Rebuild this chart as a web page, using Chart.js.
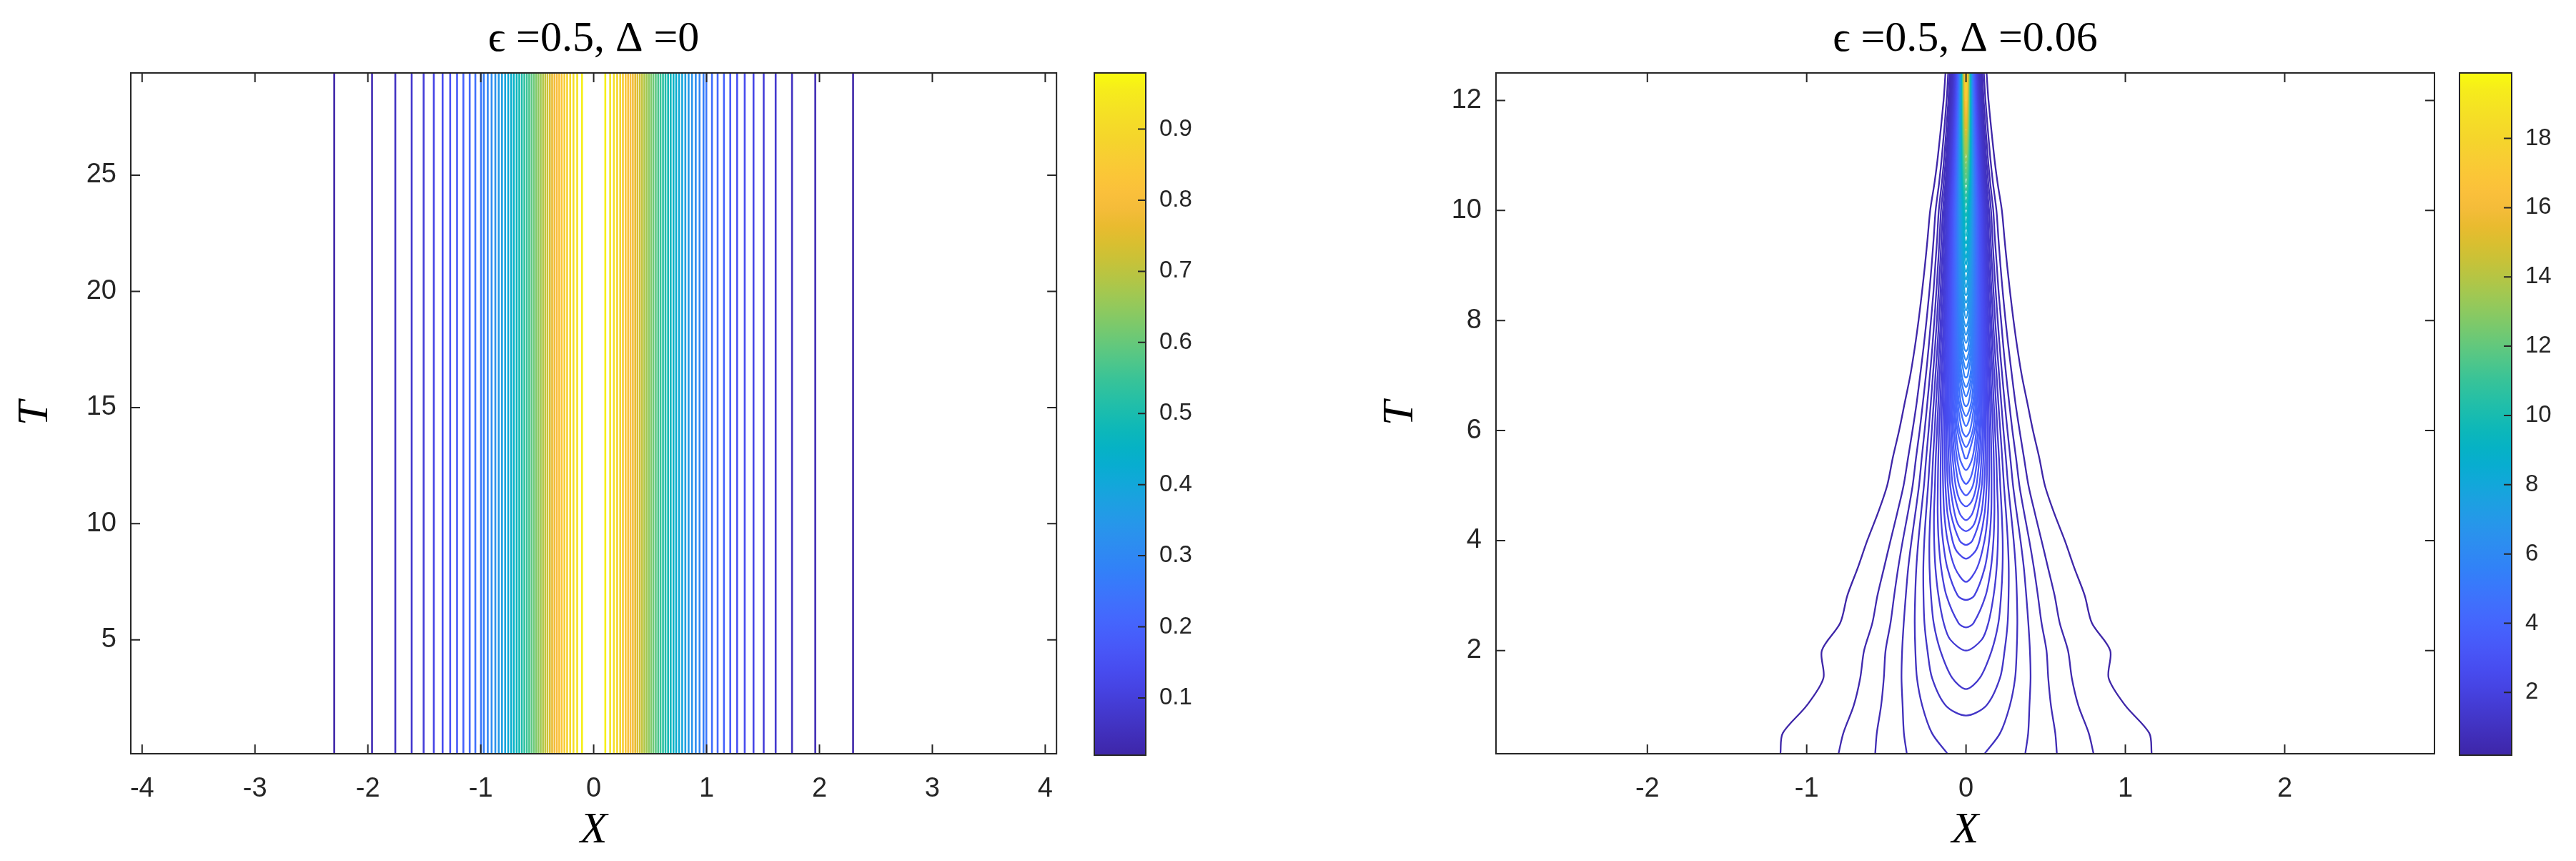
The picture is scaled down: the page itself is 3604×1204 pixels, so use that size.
<!DOCTYPE html>
<html><head><meta charset="utf-8">
<script src="https://cdn.jsdelivr.net/npm/chart.js@4.4.1/dist/chart.umd.min.js"></script>
<style>
html,body{margin:0;padding:0;background:#fff;width:3604px;height:1204px;overflow:hidden}
canvas{position:absolute;top:0}
</style></head><body>
<canvas id="a1" width="1500" height="1204" style="left:0"></canvas>
<canvas id="b1" width="250" height="1204" style="left:1500px"></canvas>
<canvas id="a2" width="1620" height="1204" style="left:1800px"></canvas>
<canvas id="b2" width="184" height="1204" style="left:3420px"></canvas>
<script>
// ================= LEFT PANEL DATA =================
const leftTitle = 'ϵ =0.5, Δ =0';
const leftXRange = [-4.1, 4.1];
const leftTRange = [0.1, 29.4];
const leftXTicks = [-4, -3, -2, -1, 0, 1, 2, 3, 4];
const leftTTicks = [5, 10, 15, 20, 25];
const leftCbRange = [0.0195, 0.979];
const leftCbTicks = [0.1, 0.2, 0.3, 0.4, 0.5, 0.6, 0.7, 0.8, 0.9];
const leftLevels = [0.020,0.039,0.059,0.078,0.098,0.118,0.137,0.157,0.176,0.196,0.215,0.235,0.255,0.274,0.294,0.313,0.333,0.352,0.372,0.392,0.411,0.431,0.450,0.470,0.490,0.509,0.529,0.548,0.568,0.588,0.607,0.627,0.646,0.666,0.685,0.705,0.725,0.744,0.764,0.783,0.803,0.822,0.842,0.862,0.881,0.901,0.920,0.940,0.959];
const leftLineXNeg = [-2.298,-1.963,-1.757,-1.612,-1.506,-1.416,-1.338,-1.271,-1.210,-1.154,-1.098,-1.048,-0.998,-0.973,-0.938,-0.904,-0.871,-0.841,-0.812,-0.784,-0.757,-0.731,-0.707,-0.682,-0.659,-0.636,-0.614,-0.592,-0.571,-0.550,-0.529,-0.509,-0.489,-0.469,-0.449,-0.429,-0.409,-0.388,-0.368,-0.347,-0.326,-0.305,-0.283,-0.259,-0.235,-0.208,-0.179,-0.146,-0.103];
const leftLineXPos = [2.298,1.963,1.757,1.612,1.506,1.416,1.338,1.271,1.210,1.154,1.098,1.048,0.998,0.973,0.938,0.904,0.871,0.841,0.812,0.784,0.757,0.731,0.707,0.682,0.659,0.636,0.614,0.592,0.571,0.550,0.529,0.509,0.489,0.469,0.449,0.429,0.409,0.388,0.368,0.347,0.326,0.305,0.283,0.259,0.235,0.208,0.179,0.146,0.103];

// ================= RIGHT PANEL DATA =================
const rightTitle = 'ϵ =0.5, Δ =0.06';
const rightXRange = [-2.95, 2.94];
const rightTRange = [0.125, 12.5];
const rightXTicks = [-2, -1, 0, 1, 2];
const rightTTicks = [2, 4, 6, 8, 10, 12];
const rightCbRange = [0.19, 19.89];
const rightCbTicks = [2, 4, 6, 8, 10, 12, 14, 16, 18];

// open contours (cross the bottom edge): half-width |X| at each T of rightOpenT
const rightOpenT = [0.13,0.5,1,1.5,2,2.5,3,3.5,4,4.5,5,5.5,6,6.5,7,7.5,8,8.5,9,9.5,10,10.5,11,12,12.5];
const rightOpenLevels = [0.19, 0.389, 0.588, 0.787, 0.986];
const rightOpenHalfX = [
 [1.165,1.150,1.000,0.895,0.905,0.790,0.745,0.680,0.620,0.553,0.495,0.460,0.420,0.385,0.350,0.322,0.298,0.277,0.258,0.241,0.225,0.198,0.176,0.141,0.129],
 [0.800,0.770,0.705,0.664,0.640,0.588,0.556,0.515,0.474,0.432,0.392,0.364,0.336,0.310,0.288,0.267,0.248,0.231,0.216,0.203,0.191,0.169,0.151,0.122,0.112],
 [0.570,0.560,0.533,0.516,0.505,0.474,0.451,0.426,0.397,0.365,0.335,0.314,0.291,0.271,0.252,0.235,0.220,0.205,0.193,0.181,0.171,0.152,0.136,0.111,0.102],
 [0.372,0.390,0.398,0.405,0.401,0.391,0.378,0.363,0.342,0.318,0.295,0.278,0.260,0.243,0.227,0.212,0.199,0.187,0.176,0.166,0.157,0.140,0.126,0.103,0.095],
 [0.118,0.214,0.275,0.308,0.318,0.322,0.319,0.312,0.299,0.282,0.264,0.250,0.235,0.221,0.208,0.195,0.183,0.173,0.163,0.154,0.145,0.130,0.118,0.097,0.089]
];

// closed contours (U-shaped, closing on X=0 at rightCapBottomT); half-widths on the tail of rightCapRowT
const rightCapRowT = [1,1.5,2,2.5,3,3.5,4,4.5,5,5.5,6,6.5,7,7.5,8,8.5,9,9.5,10,10.5,11,12,12.5];
const rightCapLevels = [1.185,1.384,1.583,1.782,1.981,2.180,2.379,2.578,2.777,2.976,3.175,3.374,3.573,3.772,3.971,4.170,4.369,4.568,4.767,4.966,5.165,5.364,5.563,5.762,5.961,6.160,6.359,6.558,6.757,6.956,7.155,7.354,7.553,7.752,7.951,8.150,8.349,8.548,8.747,8.946,9.145,9.344,9.543,9.742,9.941];
const rightCapBottomT = [0.82,1.30,2.00,2.42,2.92,3.25,3.67,3.92,4.17,4.37,4.62,4.82,5.03,5.28,5.49,5.70,5.89,6.08,6.26,6.44,6.62,6.79,6.96,7.12,7.28,7.44,7.59,7.74,7.89,8.04,8.18,8.32,8.46,8.60,8.74,8.88,9.01,9.14,9.27,9.40,9.53,9.66,9.78,9.90,10.02];
const rightCapNear = [null,null,[2.2,0.099],null,null,null,[3.8,0.057],null,[4.27,0.045],null,[4.72,0.037],null,[5.15,0.030],null,null,null,null,null,null,null,null,null,null,null,null,null,null,null,null,null,null,null,null,null,null,null,null,null,null,null,null,null,null,null,null];
const rightCapHalfX = [
 [0.127,0.213,0.242,0.261,0.267,0.268,0.262,0.251,0.238,0.227,0.215,0.203,0.192,0.180,0.170,0.161,0.152,0.144,0.136,0.123,0.111,0.092,0.085],
 [0.086,0.161,0.203,0.220,0.229,0.230,0.224,0.215,0.207,0.197,0.188,0.178,0.168,0.159,0.151,0.143,0.136,0.129,0.116,0.106,0.088,0.081],
 [0.140,0.173,0.192,0.200,0.201,0.195,0.190,0.182,0.174,0.166,0.158,0.150,0.142,0.135,0.128,0.122,0.111,0.101,0.084,0.078],
 [0.047,0.123,0.156,0.172,0.178,0.177,0.174,0.169,0.162,0.155,0.148,0.141,0.135,0.128,0.122,0.116,0.106,0.096,0.081,0.075],
 [0.052,0.117,0.145,0.158,0.160,0.159,0.156,0.151,0.146,0.140,0.134,0.128,0.122,0.116,0.111,0.101,0.093,0.078,0.072],
 [0.069,0.116,0.137,0.144,0.146,0.145,0.141,0.137,0.132,0.127,0.121,0.116,0.111,0.107,0.097,0.089,0.075,0.070],
 [0.085,0.117,0.129,0.133,0.134,0.132,0.129,0.125,0.120,0.116,0.111,0.106,0.102,0.094,0.086,0.073,0.068],
 [0.040,0.096,0.114,0.121,0.123,0.123,0.121,0.118,0.114,0.110,0.106,0.102,0.098,0.090,0.083,0.071,0.066],
 [0.072,0.099,0.109,0.114,0.115,0.114,0.111,0.109,0.105,0.102,0.098,0.094,0.087,0.080,0.069,0.064],
 [0.041,0.083,0.097,0.104,0.107,0.107,0.105,0.103,0.100,0.097,0.094,0.091,0.084,0.078,0.067,0.062],
 [0.065,0.084,0.094,0.099,0.100,0.100,0.098,0.096,0.093,0.090,0.088,0.081,0.076,0.065,0.061],
 [0.043,0.071,0.085,0.091,0.094,0.094,0.094,0.092,0.090,0.087,0.084,0.079,0.073,0.063,0.059],
 [0.057,0.075,0.084,0.088,0.089,0.089,0.088,0.086,0.084,0.081,0.076,0.071,0.062,0.058],
 [0.040,0.065,0.076,0.081,0.084,0.084,0.084,0.082,0.081,0.079,0.074,0.069,0.060,0.057],
 [0.008,0.054,0.068,0.075,0.079,0.080,0.080,0.079,0.078,0.076,0.072,0.067,0.059,0.055],
 [0.042,0.060,0.069,0.074,0.076,0.076,0.076,0.075,0.073,0.070,0.066,0.057,0.054],
 [0.025,0.052,0.063,0.069,0.072,0.073,0.073,0.072,0.071,0.067,0.064,0.056,0.053],
 [0.043,0.057,0.064,0.068,0.069,0.070,0.069,0.068,0.065,0.062,0.055,0.052],
 [0.032,0.050,0.059,0.064,0.066,0.067,0.067,0.066,0.064,0.061,0.054,0.051],
 [0.015,0.043,0.054,0.060,0.063,0.064,0.064,0.064,0.062,0.059,0.053,0.050],
 [0.035,0.049,0.056,0.059,0.061,0.062,0.062,0.060,0.057,0.052,0.049],
 [0.026,0.043,0.052,0.056,0.058,0.059,0.059,0.058,0.056,0.050,0.048],
 [0.011,0.038,0.047,0.053,0.055,0.057,0.057,0.056,0.055,0.049,0.047],
 [0.031,0.043,0.049,0.053,0.054,0.055,0.055,0.053,0.048,0.046],
 [0.023,0.039,0.046,0.050,0.052,0.053,0.053,0.052,0.047,0.045],
 [0.012,0.034,0.043,0.047,0.050,0.051,0.052,0.051,0.047,0.044],
 [0.029,0.039,0.044,0.047,0.049,0.050,0.049,0.046,0.044],
 [0.022,0.035,0.041,0.045,0.047,0.049,0.048,0.045,0.043],
 [0.014,0.031,0.039,0.043,0.045,0.047,0.047,0.044,0.042],
 [0.027,0.036,0.041,0.043,0.046,0.046,0.043,0.041],
 [0.022,0.033,0.038,0.041,0.044,0.044,0.042,0.041],
 [0.017,0.029,0.036,0.039,0.043,0.043,0.041,0.040],
 [0.008,0.026,0.033,0.037,0.041,0.042,0.041,0.039],
 [0.022,0.031,0.035,0.040,0.041,0.040,0.039],
 [0.018,0.028,0.033,0.038,0.040,0.039,0.038],
 [0.012,0.025,0.031,0.037,0.039,0.038,0.037],
 [0.022,0.029,0.036,0.038,0.038,0.037],
 [0.019,0.027,0.034,0.037,0.037,0.036],
 [0.015,0.025,0.033,0.036,0.036,0.035],
 [0.010,0.022,0.031,0.035,0.035,0.035],
 [0.020,0.030,0.034,0.035,0.034],
 [0.017,0.028,0.032,0.034,0.034],
 [0.013,0.027,0.031,0.033,0.033],
 [0.009,0.025,0.030,0.033,0.032],
 [0.024,0.029,0.032,0.032]
];
// closed contours near the focus (every second level drawn)
const rightTopRowT = [10.5, 11, 11.5, 12, 12.5];
const rightTopLevels = [10.339,10.737,11.135,11.533,11.931,12.329,12.727,13.125,13.523,13.921,14.319,14.717,15.115,15.513,15.911,16.309,16.707,17.105,17.503,17.901,18.299,18.697,19.095,19.493,19.891];
const rightTopBottomT = [10.135,10.249,10.361,10.471,10.58,10.687,10.793,10.897,10.999,11.10,11.199,11.297,11.393,11.487,11.58,11.671,11.761,11.849,11.935,12.02,12.103,12.185,12.265,12.343,12.42];
const rightTopHalfX = [
 [0.0205,0.0272,0.0298,0.0307,0.0307],[0.0169,0.025,0.0282,0.0295,0.0297],[0.0125,0.0228,0.0266,0.0282,0.0286],[0.0059,0.0206,0.0251,0.027,0.0276],
 [0.0181,0.0235,0.0258,0.0266],[0.0155,0.0219,0.0246,0.0256],[0.0125,0.0202,0.0234,0.0246],[0.0087,0.0185,0.0222,0.0236],
 [0.0167,0.021,0.0226],[0.0148,0.0198,0.0217],[0.0128,0.0185,0.0207],[0.0104,0.0173,0.0198],[0.0075,0.016,0.0188],[0.0026,0.0146,0.0178],
 [0.0132,0.0168],[0.0116,0.0158],[0.0099,0.0148],[0.008,0.0137],[0.0054,0.0126],
 [0.0114],[0.0102],[0.0088],[0.0072],[0.0052],[0.0019]
];

// ================= COLOUR MAP (parula) =================
const parulaStops = [[0,62,38,168],[0.111,71,71,235],[0.143,72,82,244],[0.175,70,94,251],[0.206,67,105,253],[0.238,60,116,252],[0.270,50,128,248],[0.302,46,139,242],[0.333,40,149,235],[0.365,31,158,227],[0.397,18,167,218],[0.429,7,174,206],[0.460,5,180,193],[0.492,20,186,179],[0.524,39,192,164],[0.556,60,196,149],[0.587,87,199,133],[0.619,114,201,114],[0.651,141,201,95],[0.683,167,199,77],[0.714,192,196,60],[0.746,214,191,48],[0.778,235,187,47],[0.810,248,189,61],[0.841,252,196,57],[0.873,248,204,51],[0.905,245,213,43],[0.937,245,223,38],[0.968,245,232,31],[1,249,251,14]];
function parula(t){
  t=Math.max(0,Math.min(1,t));
  for(let i=1;i<parulaStops.length;i++){
    const a=parulaStops[i-1],b=parulaStops[i];
    if(t<=b[0]){const f=(t-a[0])/(b[0]-a[0]);
      return `rgb(${Math.round(a[1]+f*(b[1]-a[1]))},${Math.round(a[2]+f*(b[2]-a[2]))},${Math.round(a[3]+f*(b[3]-a[3]))})`;}
  }
  return 'rgb(249,251,14)';
}
const AX='#262626';
const tickFont={family:'Liberation Sans, Arial, sans-serif',size:38};
const cbFont={family:'Liberation Sans, Arial, sans-serif',size:33};

const framePlugin={
  id:'frame',
  afterDraw(chart,args,o){
    const {ctx,chartArea:{left,top,right,bottom}}=chart;
    const xs=chart.scales.x, ys=chart.scales.y;
    ctx.save();
    ctx.strokeStyle=AX; ctx.lineWidth=2;
    ctx.strokeRect(left,top,right-left,bottom-top);
    const L=13;
    ctx.beginPath();
    xs.ticks.forEach(t=>{const p=xs.getPixelForValue(t.value);ctx.moveTo(p,bottom);ctx.lineTo(p,bottom-L);ctx.moveTo(p,top);ctx.lineTo(p,top+L);});
    ys.ticks.forEach(t=>{const p=ys.getPixelForValue(t.value);ctx.moveTo(left,p);ctx.lineTo(left+L,p);ctx.moveTo(right,p);ctx.lineTo(right-L,p);});
    ctx.stroke();
    ctx.fillStyle='#000';
    ctx.textAlign='center'; ctx.textBaseline='middle';
    ctx.font='60px "Liberation Serif", serif';
    ctx.fillText(o.title,(left+right)/2,55);
    ctx.font='italic 62px "Liberation Serif", serif';
    ctx.fillText('X',(left+right)/2,bottom+108);
    ctx.translate(left-o.tOff,(top+bottom)/2); ctx.rotate(-Math.PI/2);
    ctx.fillText('T',0,0);
    ctx.restore();
  }
};
const cbPlugin={
  id:'cb',
  beforeDatasetsDraw(chart){
    const {ctx,chartArea:{left,top,right,bottom}}=chart;
    const g=ctx.createLinearGradient(0,bottom,0,top);
    for(let i=0;i<=40;i++){g.addColorStop(i/40,parula(i/40));}
    ctx.save();ctx.fillStyle=g;ctx.fillRect(left,top,right-left,bottom-top);ctx.restore();
  },
  afterDraw(chart){
    const {ctx,chartArea:{left,top,right,bottom}}=chart;
    const ys=chart.scales.y;
    ctx.save();ctx.strokeStyle=AX;ctx.lineWidth=2;ctx.strokeRect(left,top,right-left,bottom-top);
    ctx.beginPath();
    ys.ticks.forEach(t=>{const p=ys.getPixelForValue(t.value);ctx.moveTo(right,p);ctx.lineTo(right-11,p);});
    ctx.stroke();ctx.restore();
  }
};

function mainChart(id,datasets,xr,tr,xt,tt,yw,pad,title,tOff){
  return new Chart(document.getElementById(id),{
    type:'scatter',
    data:{datasets},
    options:{
      responsive:false,animation:false,devicePixelRatio:1,
      layout:{padding:{top:102,right:pad,bottom:0,left:0}},
      plugins:{legend:{display:false},tooltip:{enabled:false},frame:{title,tOff}},
      elements:{point:{radius:0}},
      scales:{
        x:{type:'linear',min:xr[0],max:xr[1],
           afterBuildTicks:s=>{s.ticks=xt.map(v=>({value:v}));},
           afterFit:s=>{s.height=150;},
           grid:{display:false,drawTicks:false},border:{display:false},
           ticks:{font:tickFont,color:AX,padding:27,maxRotation:0,callback:v=>String(v)}},
        y:{type:'linear',min:tr[0],max:tr[1],
           afterBuildTicks:s=>{s.ticks=tt.map(v=>({value:v}));},
           afterFit:s=>{s.width=yw;},
           grid:{display:false,drawTicks:false},border:{display:false},
           ticks:{font:tickFont,color:AX,padding:20,callback:v=>String(v)}}
      }
    },
    plugins:[framePlugin]
  });
}
function cbChart(id,range,ticks,padL,yw,fmt){
  return new Chart(document.getElementById(id),{
    type:'scatter',
    data:{datasets:[]},
    options:{
      responsive:false,animation:false,devicePixelRatio:1,
      layout:{padding:{top:102,bottom:148,left:padL,right:0}},
      plugins:{legend:{display:false},tooltip:{enabled:false}},
      scales:{
        x:{display:false,min:0,max:1},
        y:{position:'right',type:'linear',min:range[0],max:range[1],
           afterBuildTicks:s=>{s.ticks=ticks.map(v=>({value:v}));},
           afterFit:s=>{s.width=yw;},
           grid:{display:false,drawTicks:false},border:{display:false},
           ticks:{font:cbFont,color:AX,padding:19,callback:fmt}}
      }
    },
    plugins:[cbPlugin]
  });
}

// ---------- left datasets ----------
const lds=[];
const lt=l=>(l-leftCbRange[0])/(leftCbRange[1]-leftCbRange[0]);
leftLevels.forEach((lv,i)=>{
  const c=parula(lt(lv));
  lds.push({data:[{x:leftLineXNeg[i],y:leftTRange[0]},{x:leftLineXNeg[i],y:leftTRange[1]}],showLine:true,borderColor:c,borderWidth:2.6});
  lds.push({data:[{x:leftLineXPos[i],y:leftTRange[0]},{x:leftLineXPos[i],y:leftTRange[1]}],showLine:true,borderColor:c,borderWidth:2.6});
});
mainChart('a1',lds,leftXRange,leftTRange,leftXTicks,leftTTicks,183,5,leftTitle,133);
cbChart('b1',leftCbRange,leftCbTicks,31,147,v=>v.toFixed(1));

// ---------- right datasets ----------
const rds=[];
const rt=l=>(l-rightCbRange[0])/(rightCbRange[1]-rightCbRange[0]);
rightOpenLevels.forEach((lv,i)=>{
  const c=parula(rt(lv)), hx=rightOpenHalfX[i];
  rds.push({data:hx.map((h,j)=>({x:-h,y:rightOpenT[j]})),showLine:true,borderColor:c,borderWidth:2.3,tension:0.3});
  rds.push({data:hx.map((h,j)=>({x:h,y:rightOpenT[j]})),showLine:true,borderColor:c,borderWidth:2.3,tension:0.3});
});
function capData(rows,hx,t0,near){
  const arm=[];
  if(near) arm.push({t:near[0],h:near[1]});
  const off=rows.length-hx.length;
  hx.forEach((h,j)=>arm.push({t:rows[off+j],h}));
  const pts=[];
  for(let j=arm.length-1;j>=0;j--) pts.push({x:-arm[j].h,y:arm[j].t});
  pts.push({x:0,y:t0});
  arm.forEach(a=>pts.push({x:a.h,y:a.t}));
  return pts;
}
rightCapLevels.forEach((lv,i)=>{
  rds.push({data:capData(rightCapRowT,rightCapHalfX[i],rightCapBottomT[i],rightCapNear[i]),showLine:true,borderColor:parula(rt(lv)),borderWidth:2.3,tension:0.3});
});
rightTopLevels.forEach((lv,i)=>{
  rds.push({data:capData(rightTopRowT,rightTopHalfX[i],rightTopBottomT[i],null),showLine:true,borderColor:parula(rt(lv)),borderWidth:2.2,tension:0.25});
});
mainChart('a2',rds,rightXRange,rightTRange,rightXTicks,rightTTicks,293,14,rightTitle,133);
cbChart('b2',rightCbRange,rightCbTicks,21,90,v=>String(v));
</script>
</body></html>
